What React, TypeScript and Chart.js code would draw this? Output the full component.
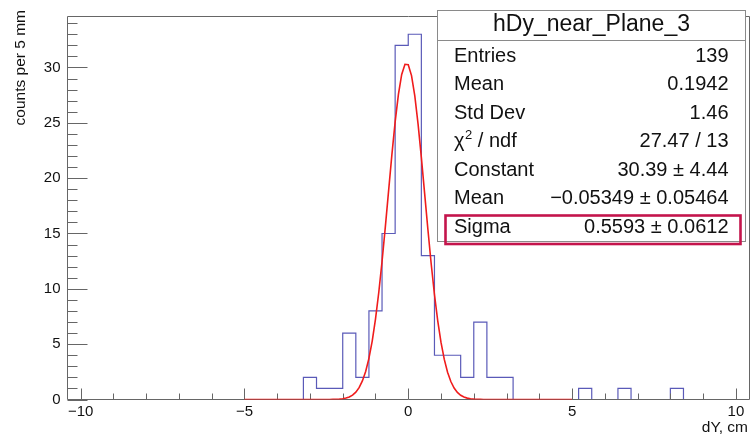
import React, { useEffect, useRef } from 'react';
import { Chart, registerables } from 'chart.js';

Chart.register(...registerables);

// ---- data ----
const binMin = -10.4;
const binWidth = 0.4;
// 52 bins of 0.4 cm from -10.4 to 10.4
const counts = [
  0, 0, 0, 0, 0, 0, 0, 0, 0, 0,
  0, 0, 0, 0, 0, 0, 0, 0, 2, 1,
  1, 6, 2, 8, 15, 32, 33, 13, 4, 4,
  2, 7, 2, 2, 0, 0, 0, 0, 0, 1,
  0, 0, 1, 0, 0, 0, 1, 0, 0, 0,
  0, 0,
];

// Gaussian fit curve (Constant 30.39, Mean -0.05349, Sigma 0.5593), sampled values
const fitX = [
  -5.0, -2.5, -2.4, -2.3, -2.2, -2.1, -2.0, -1.9, -1.8, -1.7, -1.6, -1.5, -1.4, -1.3, -1.2, -1.1,
  -1.0, -0.9, -0.8, -0.7, -0.6, -0.5, -0.4, -0.3, -0.2, -0.1, 0.0, 0.1, 0.2, 0.3, 0.4, 0.5,
  0.6, 0.7, 0.8, 0.9, 1.0, 1.1, 1.2, 1.3, 1.4, 1.5, 1.6, 1.7, 1.8, 1.9, 2.0, 2.1,
  2.2, 2.3, 2.4, 2.5, 5.0,
];
const fitY = [
  0.0, 0.0021, 0.0046, 0.0095, 0.0193, 0.0377, 0.0713, 0.1306, 0.232, 0.3989, 0.6644, 1.0718, 1.6752, 2.5356, 3.7173, 5.2779,
  7.2584, 9.6677, 12.471, 15.581, 18.855, 22.097, 25.083, 27.577, 29.365, 30.285, 30.251, 29.267, 27.424, 24.888, 21.876, 18.624,
  15.357, 12.264, 9.4859, 7.1058, 5.156, 3.6231, 2.466, 1.6256, 1.0378, 0.642, 0.3844, 0.223, 0.1254, 0.0682, 0.036, 0.0184,
  0.0091, 0.0043, 0.002, 0.0009, 0.0,
];

const xMin = -10.4;
const xMax = 10.4;
const yMin = 0;
const yMax = 34.65;

const xMajorTicks = [-10, -5, 0, 5, 10];
const xMinorTicks = [-10, -9, -8, -7, -6, -5, -4, -3, -2, -1, 0, 1, 2, 3, 4, 5, 6, 7, 8, 9, 10];
const yMajorTicks = [0, 5, 10, 15, 20, 25, 30];
const yMinorTicks = [
  0, 1, 2, 3, 4, 5, 6, 7, 8, 9, 10, 11, 12, 13, 14, 15, 16, 17, 18, 19, 20, 21, 22, 23, 24, 25,
  26, 27, 28, 29, 30, 31, 32, 33, 34,
];

const xTitle = 'dY, cm';
const yTitle = 'counts per 5 mm';

const statsTitle = 'hDy_near_Plane_3';
const statsLabels = ['Entries', 'Mean', 'Std Dev', 'χ2 / ndf', 'Constant', 'Mean', 'Sigma'];
const statsValues = ['139', '0.1942', '1.46', '27.47 / 13', '30.39 ± 4.44', '−0.05349 ± 0.05464', '0.5593 ± 0.0612'];

const FONT = '"Liberation Sans", Arial, Helvetica, sans-serif';

function fmtTick(v: number): string {
  return v < 0 ? '\u2212' + Math.abs(v) : String(v);
}

function drawFrame(chart: any) {
  const { ctx, chartArea, scales } = chart;
  const { left, right, top, bottom } = chartArea;
  const L = Math.floor(left) + 0.5;
  const R = Math.floor(right) + 0.5;
  const T = Math.floor(top) + 0.5;
  const B = Math.floor(bottom) + 0.5;
  ctx.save();
  ctx.strokeStyle = '#666666';
  ctx.lineWidth = 1;
  ctx.beginPath();
  ctx.moveTo(L, T);
  ctx.lineTo(R, T);
  ctx.lineTo(R, B);
  ctx.lineTo(L, B);
  ctx.closePath();
  ctx.stroke();

  ctx.beginPath();
  for (const v of xMinorTicks) {
    const px = Math.round(scales.x.getPixelForValue(v)) + 0.5;
    const len = xMajorTicks.includes(v) ? 11 : 6;
    ctx.moveTo(px, B);
    ctx.lineTo(px, B - len);
  }
  for (const v of yMinorTicks) {
    const py = Math.round(scales.y.getPixelForValue(v)) + 0.5;
    const len = yMajorTicks.includes(v) ? 20 : 10;
    ctx.moveTo(L, py);
    ctx.lineTo(L + len, py);
  }
  ctx.stroke();
  ctx.restore();
}

function drawTitlesAndStats(chart: any) {
  const { ctx } = chart;
  ctx.save();
  ctx.fillStyle = '#111111';

  // axis titles
  ctx.font = `15.5px ${FONT}`;
  ctx.textAlign = 'right';
  ctx.textBaseline = 'alphabetic';
  ctx.fillText(xTitle, 748, 432);

  ctx.save();
  ctx.translate(25, 10);
  ctx.rotate(-Math.PI / 2);
  ctx.textAlign = 'right';
  ctx.textBaseline = 'alphabetic';
  ctx.fillText(yTitle, 0, 0);
  ctx.restore();

  // stats box
  const bx = 437.5, by = 10.5, bw = 308, bh = 231;
  ctx.fillStyle = '#ffffff';
  ctx.fillRect(bx, by, bw, bh);
  ctx.strokeStyle = '#8a8a8a';
  ctx.lineWidth = 1;
  ctx.strokeRect(bx, by, bw, bh);
  ctx.beginPath();
  ctx.moveTo(bx, 40.5);
  ctx.lineTo(bx + bw, 40.5);
  ctx.stroke();

  ctx.fillStyle = '#111111';
  ctx.font = `23px ${FONT}`;
  ctx.textAlign = 'center';
  ctx.fillText(statsTitle, 591.5, 31);

  const baseY = 61.7;
  const step = 28.5;
  ctx.font = `20px ${FONT}`;
  statsLabels.forEach((lab, i) => {
    const yy = baseY + i * step;
    ctx.textAlign = 'left';
    if (lab.startsWith('χ2')) {
      ctx.fillText('χ', 454, yy);
      const w = ctx.measureText('χ').width;
      ctx.font = `13px ${FONT}`;
      ctx.fillText('2', 454 + w + 0.5, yy - 8);
      const w2 = ctx.measureText('2').width;
      ctx.font = `20px ${FONT}`;
      ctx.fillText(' / ndf', 454 + w + w2 + 0.5, yy);
    } else {
      ctx.fillText(lab, 454, yy);
    }
    ctx.textAlign = 'right';
    ctx.fillText(statsValues[i], 728.5, yy);
  });

  // highlight around Sigma row
  ctx.strokeStyle = '#c4144c';
  ctx.lineWidth = 2.6;
  ctx.strokeRect(445.5, 215.5, 295, 28.5);
  ctx.restore();
}

const rootStyle = {
  id: 'rootStyle',
  afterDatasetDraw(chart: any, args: any) {
    if (args.index === 1) drawFrame(chart);
  },
  afterDraw(chart: any) {
    drawTitlesAndStats(chart);
  },
};

export default function App() {
  const ref = useRef<HTMLCanvasElement | null>(null);

  useEffect(() => {
    if (!ref.current) return;
    const histPoints = counts.map((c, i) => ({ x: binMin + i * binWidth, y: c }));
    histPoints.push({ x: binMin + counts.length * binWidth, y: 0 });
    const fitPoints = fitX.map((xv, i) => ({ x: xv, y: fitY[i] }));

    const chart = new Chart(ref.current, {
      type: 'line',
      data: {
        datasets: [
          {
            label: 'gaus fit',
            data: fitPoints,
            borderColor: '#f01c1c',
            borderWidth: 1.6,
            pointRadius: 0,
            tension: 0,
            fill: false,
          },
          {
            label: statsTitle,
            data: histPoints,
            borderColor: '#5a5ab8',
            borderWidth: 1.2,
            pointRadius: 0,
            stepped: 'before',
            fill: false,
          },
        ],
      },
      options: {
        responsive: false,
        animation: false,
        events: [],
        layout: { padding: { top: 5, right: 2, left: 0, bottom: 0 } },
        plugins: {
          legend: { display: false },
          tooltip: { enabled: false },
          title: { display: false },
        },
        scales: {
          x: {
            type: 'linear',
            min: xMin,
            max: xMax,
            grid: { display: false, drawTicks: false },
            border: { display: false },
            afterBuildTicks: (s: any) => {
              s.ticks = xMajorTicks.map((v) => ({ value: v }));
            },
            afterFit: (s: any) => {
              s.height = 36.5;
            },
            ticks: {
              callback: (v: any) => fmtTick(Number(v)),
              color: '#111111',
              font: { family: FONT, size: 15 },
              padding: 3,
              maxRotation: 0,
              autoSkip: false,
            },
          },
          y: {
            type: 'linear',
            min: yMin,
            max: yMax,
            grid: { display: false, drawTicks: false },
            border: { display: false },
            afterBuildTicks: (s: any) => {
              s.ticks = yMajorTicks.map((v) => ({ value: v }));
            },
            afterFit: (s: any) => {
              s.width = 67.5;
            },
            ticks: {
              callback: (v: any) => fmtTick(Number(v)),
              color: '#111111',
              font: { family: FONT, size: 15 },
              padding: 7,
              autoSkip: false,
            },
          },
        },
      },
      plugins: [rootStyle],
    });
    return () => chart.destroy();
  }, []);

  return (
    <div style={{ position: 'fixed', left: 0, top: 0, width: 751, height: 436, background: '#ffffff' }}>
      <canvas ref={ref} width={751} height={436} style={{ display: 'block', width: 751, height: 436 }} />
    </div>
  );
}
